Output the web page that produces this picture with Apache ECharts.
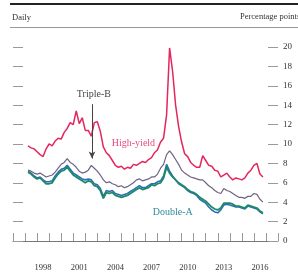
<!DOCTYPE html>
<html>
<head>
<meta charset="utf-8">
<script src="https://cdn.jsdelivr.net/npm/echarts@6/dist/echarts.min.js"></script>
<style>
  html, body { margin: 0; padding: 0; background: #fff; }
  #chart { width: 298px; height: 279px; }
</style>
</head>
<body>
<div id="chart"></div>
<script>
// quarterly sample dates (decimal years)
const dates = [
  1997.25, 1997.5, 1997.75, 1998.0, 1998.25, 1998.5, 1998.75, 1999.0, 1999.25, 1999.5, 1999.75,
  2000.0, 2000.25, 2000.5, 2000.75, 2001.0, 2001.25, 2001.5, 2001.75, 2002.0, 2002.25, 2002.5, 2002.75,
  2003.0, 2003.25, 2003.5, 2003.75, 2004.0, 2004.25, 2004.5, 2004.75, 2005.0, 2005.25, 2005.5, 2005.75,
  2006.0, 2006.25, 2006.5, 2006.75, 2007.0, 2007.25, 2007.5, 2007.75, 2008.0, 2008.25, 2008.5, 2008.75,
  2009.0, 2009.25, 2009.5, 2009.75, 2010.0, 2010.25, 2010.5, 2010.75, 2011.0, 2011.25, 2011.5, 2011.75,
  2012.0, 2012.25, 2012.5, 2012.75, 2013.0, 2013.25, 2013.5, 2013.75, 2014.0, 2014.25, 2014.5, 2014.75,
  2015.0, 2015.25, 2015.5, 2015.75, 2016.0, 2016.25, 2016.5, 2016.75
];

const highYield = [
  9.8, 9.6, 9.5, 9.2, 8.9, 8.7, 9.5, 10.0, 9.8, 10.3, 10.6,
  10.5, 11.2, 11.6, 12.2, 12.0, 13.4, 12.1, 12.7, 11.4, 11.4, 10.8, 12.2,
  12.3, 11.3, 9.7, 9.1, 8.8, 8.3, 7.8, 7.6, 7.7, 7.4, 7.6, 7.5,
  7.9, 7.8, 8.0, 8.2, 8.1, 8.4, 8.6, 9.1, 9.4, 10.2, 10.6, 13.0,
  19.9, 17.5, 14.0, 11.8, 10.2, 9.0, 8.7, 8.1, 7.8, 7.6, 7.6, 8.8,
  8.3, 7.8, 7.7, 7.3, 7.2, 6.6, 6.8, 7.0, 6.6, 6.3, 6.5, 6.4,
  6.3, 6.5, 7.0, 7.3, 7.8, 8.0, 6.9, 6.6
];

const tripleB = [
  7.3, 7.2, 7.0, 6.9, 7.0, 6.8, 6.6, 6.7, 6.8, 7.1, 7.5,
  7.9, 8.1, 8.5, 8.1, 7.9, 7.6, 7.2, 7.0, 7.1, 7.3, 7.8, 7.5,
  7.2, 6.8, 6.3, 6.0, 6.1, 5.9, 5.8, 5.6, 5.7, 5.5, 5.6, 5.8,
  6.0, 6.3, 6.4, 6.2, 6.3, 6.4, 6.6, 6.6, 6.9, 7.5, 7.9, 8.9,
  9.3, 8.9, 8.4, 7.9, 7.3, 7.0, 6.8, 6.6, 6.5, 6.4, 6.3, 6.3,
  6.0, 5.7, 5.5, 5.2, 5.0, 4.9, 5.4, 5.2, 5.1, 4.9, 4.7, 4.5,
  4.5, 4.4, 4.6, 4.6, 4.9, 4.8, 4.3, 4.0
];

const singleA = [
  7.2, 7.0, 6.7, 6.5, 6.6, 6.3, 6.1, 6.1, 6.2, 6.7, 7.1,
  7.4, 7.5, 7.8, 7.4, 7.0, 6.8, 6.6, 6.4, 6.3, 6.4, 6.3, 5.9,
  5.8, 5.4, 4.6, 5.2, 5.1, 5.2, 4.9, 4.8, 4.7, 4.8, 4.9, 5.1,
  5.3, 5.5, 5.7, 5.5, 5.5, 5.7, 5.9, 5.9, 6.1, 6.2, 6.7, 7.9,
  7.2, 6.7, 6.3, 5.9, 5.7, 5.5, 5.2, 5.0, 4.9, 4.7, 4.3, 4.1,
  3.9, 3.5, 3.2, 3.0, 2.9, 3.2, 3.7, 3.8, 3.7, 3.6, 3.5, 3.5,
  3.4, 3.3, 3.6, 3.5, 3.4, 3.3, 3.0, 2.8
];

const doubleA = [
  7.1, 6.9, 6.6, 6.4, 6.5, 6.2, 5.9, 5.9, 6.0, 6.5, 6.9,
  7.2, 7.3, 7.6, 7.2, 6.8, 6.6, 6.4, 6.2, 6.0, 6.2, 6.1, 5.7,
  5.6, 5.2, 4.4, 5.0, 4.9, 5.0, 4.7, 4.6, 4.5, 4.6, 4.7, 4.9,
  5.1, 5.3, 5.5, 5.3, 5.4, 5.5, 5.8, 5.7, 5.9, 6.0, 6.5, 7.6,
  7.0, 6.6, 6.3, 6.0, 5.8, 5.6, 5.3, 5.1, 5.0, 4.8, 4.5, 4.3,
  4.1, 3.8, 3.5, 3.3, 3.2, 3.4, 3.9, 3.9, 3.9, 3.8, 3.6, 3.6,
  3.5, 3.4, 3.7, 3.6, 3.5, 3.4, 3.1, 2.9
];

const yTicks = [0, 2, 4, 6, 8, 10, 12, 14, 16, 18, 20];
const yearTicks = [1996, 1997, 1998, 1999, 2000, 2001, 2002, 2003, 2004, 2005, 2006, 2007,
  2008, 2009, 2010, 2011, 2012, 2013, 2014, 2015, 2016, 2017, 2018];
const yearLabels = [1998, 2001, 2004, 2007, 2010, 2013, 2016];

const serif = '"Liberation Serif", "DejaVu Serif", serif';

const pairs = (vals) => dates.map((d, i) => [d, vals[i]]);

const chart = echarts.init(document.getElementById('chart'));

const textPoint = (coord, text, color) => ({
  symbol: 'circle',
  symbolSize: 0,
  data: [{ coord: coord }],
  label: {
    show: true,
    position: 'right',
    distance: 0,
    formatter: text,
    color: color,
    fontFamily: serif,
    fontSize: 10
  }
});

const yAxisBase = {
  type: 'value',
  min: -1.65,
  max: 20.72,
  splitLine: { show: false },
  axisLine: { show: false },
  axisTick: {
    show: true,
    inside: true,
    length: 10,
    customValues: yTicks,
    lineStyle: { color: '#9a9a9a' }
  }
};

const option = {
  animation: false,
  backgroundColor: '#fff',
  grid: { left: 13, right: 20, top: 40, bottom: 22 },
  graphic: [
    { type: 'line', shape: { x1: 10, y1: 4, x2: 298, y2: 4 }, style: { stroke: '#222', lineWidth: 2 } },
    { type: 'line', shape: { x1: 10, y1: 27.5, x2: 298, y2: 27.5 }, style: { stroke: '#999', lineWidth: 1 } },
    { type: 'text', left: 12, top: 13, style: { text: 'Daily', fontFamily: serif, fontSize: 8.5, fill: '#333' } },
    { type: 'text', left: 240, top: 12, style: { text: 'Percentage points', fontFamily: serif, fontSize: 8.5, fill: '#333' } }
  ],
  xAxis: {
    type: 'value',
    min: 1996,
    max: 2018,
    splitLine: { show: false },
    axisLine: { show: true, lineStyle: { color: '#777', width: 1 } },
    axisTick: {
      show: true,
      inside: true,
      length: 8,
      customValues: yearTicks,
      lineStyle: { color: '#999' }
    },
    axisLabel: {
      customValues: yearLabels.map(y => y + 0.5),
      formatter: v => String(Math.floor(v)),
      fontFamily: serif,
      fontSize: 8.5,
      color: '#333',
      margin: 6
    }
  },
  yAxis: [
    Object.assign({}, yAxisBase, { position: 'left', axisLabel: { show: false } }),
    Object.assign({}, yAxisBase, {
      position: 'right',
      axisLabel: {
        show: true,
        customValues: yTicks,
        fontFamily: serif,
        fontSize: 9,
        color: '#333',
        margin: 5
      }
    })
  ],
  series: [
    {
      name: 'Single-A', type: 'line', data: pairs(singleA), showSymbol: false,
      lineStyle: { color: '#2f6db3', width: 1.6 }
    },
    {
      name: 'Double-A', type: 'line', data: pairs(doubleA), showSymbol: false,
      lineStyle: { color: '#1c8a6a', width: 1.8 },
      markPoint: textPoint([2007.6, 3.0], 'Double-A', '#2f8a98')
    },
    {
      name: 'Triple-B', type: 'line', data: pairs(tripleB), showSymbol: false,
      lineStyle: { color: '#6f6385', width: 1.2 },
      markPoint: textPoint([2001.3, 15.1], 'Triple-B', '#444'),
      markLine: {
        silent: true,
        symbol: ['none', 'arrow'],
        symbolSize: [5, 7],
        label: { show: false },
        lineStyle: { color: '#444', width: 1, type: 'solid' },
        data: [[{ coord: [2002.56, 14.1] }, { coord: [2002.56, 8.5] }]]
      }
    },
    {
      name: 'High-yield', type: 'line', data: pairs(highYield), showSymbol: false,
      lineStyle: { color: '#e3265c', width: 1.5 },
      markPoint: textPoint([2004.2, 10.1], 'High-yield', '#e8497a')
    }
  ]
};

chart.setOption(option);
</script>
</body>
</html>
